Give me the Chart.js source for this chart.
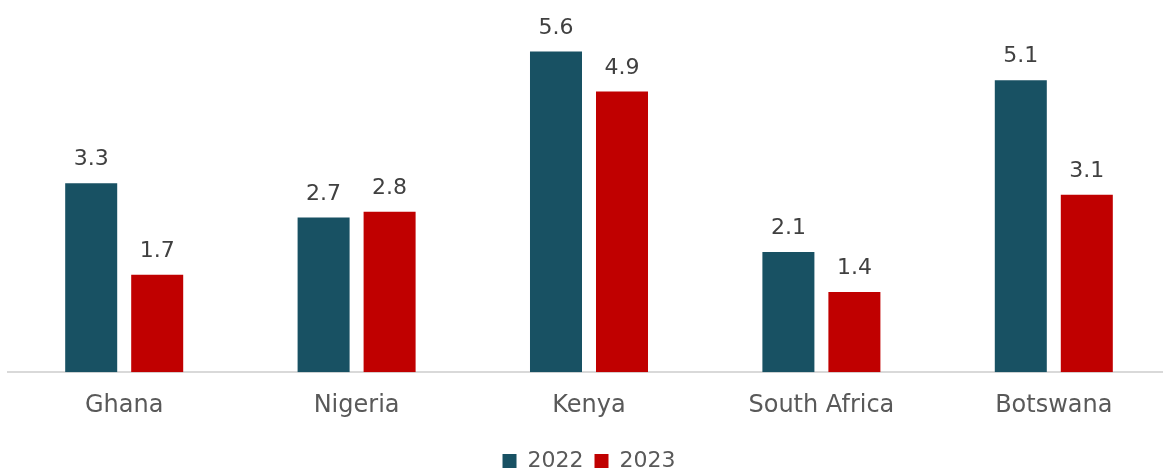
<!DOCTYPE html>
<html>

<head>
    <meta charset="utf-8">
    <script src="https://cdn.jsdelivr.net/npm/chart.js@4.4.0/dist/chart.umd.min.js"></script>
    <style>
        html, body {
            margin: 0;
            padding: 0;
            overflow: hidden;
            background: #ffffff;
        }

        #chart-container {
            width: 1180px;
            height: 476px;
        }
    </style>
</head>

<body>
    <div id="chart-container">
        <canvas id="countryChart"></canvas>
    </div>

    <script>
        const countries = ["Ghana", "Nigeria", "Kenya", "South Africa", "Botswana"];
        const values2022 = [3.3, 2.7, 5.6, 2.1, 5.1];
        const values2023 = [1.7, 2.8, 4.9, 1.4, 3.1];

        const FONT = "'DejaVu Sans', sans-serif";

        // writes each bar's value just above it
        const valueLabels = {
            id: 'valueLabels',
            afterDatasetsDraw(chart) {
                const ctx = chart.ctx;
                ctx.save();
                ctx.font = '22px ' + FONT;
                ctx.fillStyle = '#404040';
                ctx.textAlign = 'center';
                ctx.textBaseline = 'alphabetic';
                chart.data.datasets.forEach((ds, i) => {
                    chart.getDatasetMeta(i).data.forEach((bar, j) => {
                        ctx.fillText(ds.data[j].toFixed(1), bar.x, bar.y - 18);
                    });
                });
                ctx.restore();
            }
        };

        const ctx = document.getElementById('countryChart').getContext('2d');

        const countryChart = new Chart(ctx, {
            type: 'bar',
            data: {
                labels: countries,
                datasets: [
                    {
                        label: '2022',
                        data: values2022,
                        backgroundColor: '#185163'
                    },
                    {
                        label: '2023',
                        data: values2023,
                        backgroundColor: '#C00000'
                    }
                ]
            },
            options: {
                responsive: true,
                maintainAspectRatio: false,
                animation: false,
                categoryPercentage: 0.568,
                barPercentage: 0.788,
                layout: {
                    padding: { left: 8, right: 10, top: 0, bottom: -6 }
                },
                scales: {
                    x: {
                        grid: { display: false, drawTicks: false },
                        border: { display: true, color: '#D9D9D9', width: 2 },
                        ticks: {
                            color: '#595959',
                            font: { family: FONT, size: 24 },
                            padding: 19
                        }
                    },
                    y: {
                        display: false,
                        min: 0,
                        max: 6.5
                    }
                },
                plugins: {
                    legend: {
                        position: 'bottom',
                        labels: {
                            boxWidth: 14,
                            boxHeight: 14,
                            padding: 11,
                            color: '#595959',
                            font: { family: FONT, size: 22 }
                        }
                    },
                    tooltip: { enabled: false }
                }
            },
            plugins: [valueLabels]
        });
    </script>
</body>

</html>
